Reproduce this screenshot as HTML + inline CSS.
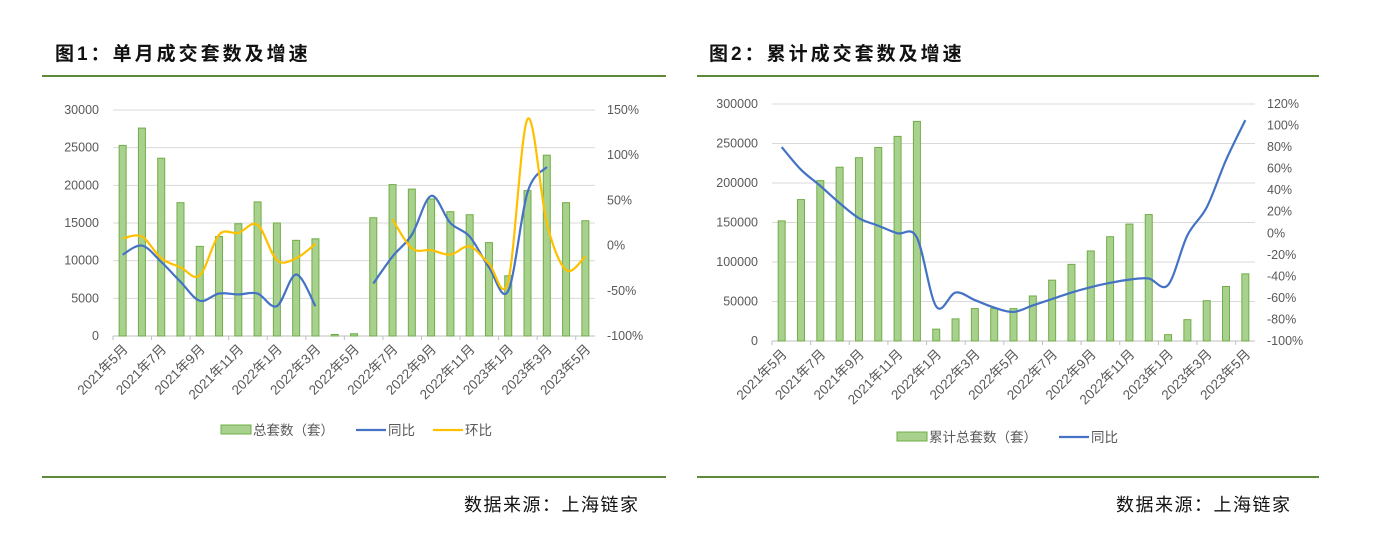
<!DOCTYPE html>
<html><head><meta charset="utf-8">
<style>
body{margin:0;background:#fff;width:1392px;height:556px;overflow:hidden;font-family:"Liberation Sans","Noto Sans CJK SC",sans-serif;}
.t{position:absolute;font-size:19px;font-weight:bold;color:#111;top:39px;letter-spacing:3px}
.hl{position:absolute;height:2px;background:#5f8a3a}
.src{position:absolute;font-size:18px;color:#111;top:491px;letter-spacing:1.5px}
svg{position:absolute;left:0;top:0}
</style></head><body>
<div class="t" style="left:55px">图1：单月成交套数及增速</div>
<div class="t" style="left:709px">图2：累计成交套数及增速</div>
<div class="hl" style="left:42px;width:624px;top:75px"></div>
<div class="hl" style="left:697px;width:622px;top:75px"></div>
<div class="hl" style="left:42px;width:624px;top:476px"></div>
<div class="hl" style="left:697px;width:622px;top:476px"></div>
<div class="src" style="left:464px">数据来源：上海链家</div>
<div class="src" style="left:1116px">数据来源：上海链家</div>
<svg id="svg" width="1392" height="556"></svg>
<script>
const months=["2021年5月","2021年6月","2021年7月","2021年8月","2021年9月","2021年10月","2021年11月","2021年12月","2022年1月","2022年2月","2022年3月","2022年4月","2022年5月","2022年6月","2022年7月","2022年8月","2022年9月","2022年10月","2022年11月","2022年12月","2023年1月","2023年2月","2023年3月","2023年4月","2023年5月"];
const monthlyTotal=[25300,27600,23600,17700,11900,13200,14900,17800,15000,12700,12900,200,300,15700,20100,19500,18200,16500,16100,12400,8000,19300,24000,17700,15300];
const monthlyYoY=[-10,0,-18,-40,-61,-53,-54,-53,-67,-32,-67,null,null,-42,-12,12,55,25,10,-24,-50,59,87,null,null];
const monthlyMoM=[8,10,-14,-24,-33,12,14,23,-16,-14,2,null,null,null,29,-3,-5,-10,-1,-20,-39,140,25,-27,-12];
const cumTotal=[152000,179000,203000,220000,232000,245000,259000,278000,15000,28000,41000,41000,41000,57000,77000,97000,114000,132000,148000,160000,8000,27000,51000,69000,85000];
const cumYoY=[80,59,44,28,14,7,0,-4,-68,-55,-62,-69,-73,-67,-61,-55,-50,-46,-43,-42,-48,-2,24,68,105];
const ticks1L=[0,5000,10000,15000,20000,25000,30000];
const ticks1R=[-100,-50,0,50,100,150];
const ticks2L=[0,50000,100000,150000,200000,250000,300000];
const ticks2R=[-100,-80,-60,-40,-20,0,20,40,60,80,100,120];

const svg=document.getElementById('svg');
const NS='http://www.w3.org/2000/svg';
function mk(tag,attrs,parent){const e=document.createElementNS(NS,tag);for(const k in attrs)e.setAttribute(k,attrs[k]);(parent||svg).appendChild(e);return e;}
function smooth(pts){let d='';let seg=[];const segs=[];pts.forEach(p=>{if(p)seg.push(p);else{if(seg.length)segs.push(seg);seg=[];}});if(seg.length)segs.push(seg);
 segs.forEach(s=>{d+='M'+s[0][0]+','+s[0][1];for(let i=0;i<s.length-1;i++){const p0=s[i-1]||s[i],p1=s[i],p2=s[i+1],p3=s[i+2]||p2;const c1=[p1[0]+(p2[0]-p0[0])/6,p1[1]+(p2[1]-p0[1])/6],c2=[p2[0]-(p3[0]-p1[0])/6,p2[1]-(p3[1]-p1[1])/6];d+=' C'+c1+' '+c2+' '+p2;}});return d;}

function chart(o){
 const g=mk('g',{});
 
 
 const n=months.length,bw=(o.x1-o.x0)/n;
 const xc=i=>o.x0+bw*(i+0.5);
 const yL=v=>o.yb-(v-o.lmin)/(o.lmax-o.lmin)*(o.yb-o.yt);
 const yR=v=>o.yb-(v-o.rmin)/(o.rmax-o.rmin)*(o.yb-o.yt);
 o.tl.forEach(t=>{if(t>o.lmin){const l=mk('line',{x1:o.x0,x2:o.x1,y1:yL(t),y2:yL(t),stroke:'#d9d9d9','stroke-width':1},g);}
  const tx=mk('text',{x:o.x0-14,y:yL(t)+4,'text-anchor':'end','font-size':12.5,fill:'#595959'},g);tx.textContent=t;});
 o.tr.forEach(t=>{const tx=mk('text',{x:o.x1+12,y:yR(t)+4,'font-size':12.5,fill:'#595959'},g);tx.textContent=t+'%';});
 const ax=mk('line',{x1:o.x0,x2:o.x1,y1:o.yb,y2:o.yb,stroke:'#bfbfbf'},g);
 o.bars.forEach((v,i)=>{const r=mk('rect',{x:xc(i)-3.5,y:yL(v),width:7,height:o.yb-yL(v),fill:'#a9d18e',stroke:'#70ad47','stroke-width':1},g);});
 months.forEach((m,i)=>{if(i%2===0){const x=xc(i);const tk=mk('line',{x1:x-bw/2,x2:x-bw/2,y1:o.yb,y2:o.yb+4,stroke:'#bfbfbf'},g);
  const tx=mk('text',{x:x+6,y:o.yb+14,'text-anchor':'end','font-size':13.5,fill:'#595959',transform:`rotate(-45 ${x+6} ${o.yb+14})`},g);tx.textContent=m;}});
 o.lines.forEach(L=>{const p=mk('path',{d:smooth(L.v.map((v,i)=>v===null?null:[xc(i),yR(v)])),fill:'none',stroke:L.c,'stroke-width':2.2},g);});
 let lx=o.legX;const ly=o.legY;
 const lr=mk('rect',{x:lx,y:ly-5,width:30,height:9,fill:'#a9d18e',stroke:'#70ad47'},g);
 const lt=mk('text',{x:lx+32,y:ly+5,'font-size':13.5,fill:'#595959'},g);lt.textContent=o.barLabel;
 lx+=32+o.barLabel.length*13.5+22;
 o.lines.forEach(L=>{const ll=mk('line',{x1:lx,x2:lx+30,y1:ly,y2:ly,stroke:L.c,'stroke-width':2.2},g);
  const t=mk('text',{x:lx+32,y:ly+5,'font-size':13.5,fill:'#595959'},g);t.textContent=L.label;lx+=32+L.label.length*13.5+18;});
}
chart({name:'chart1',x0:113,x1:595,yt:110,yb:336,lmin:0,lmax:30000,rmin:-100,rmax:150,tl:ticks1L,tr:ticks1R,bars:monthlyTotal,
 lines:[{v:monthlyYoY,c:'#4472c4',label:'同比',name:'yoy-line'},{v:monthlyMoM,c:'#ffc000',label:'环比',name:'mom-line'}],barLabel:'总套数（套）',legX:221,legY:430});
chart({name:'chart2',x0:772,x1:1255,yt:104,yb:341,lmin:0,lmax:300000,rmin:-100,rmax:120,tl:ticks2L,tr:ticks2R,bars:cumTotal,
 lines:[{v:cumYoY,c:'#4472c4',label:'同比',name:'cum-yoy-line'}],barLabel:'累计总套数（套）',legX:897,legY:437});
</script>
</body></html>
